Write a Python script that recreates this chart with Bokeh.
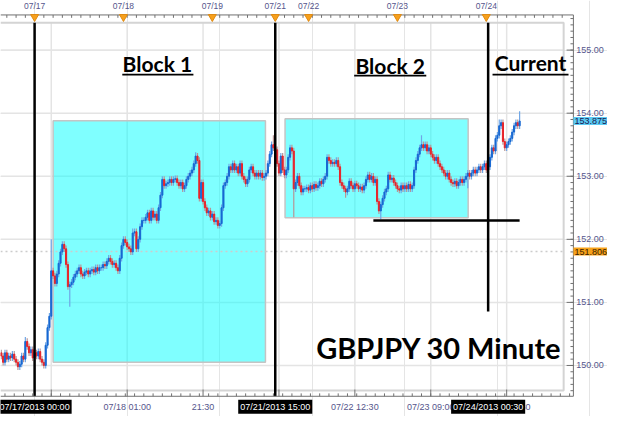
from bokeh.plotting import figure
from bokeh.models import Range1d, Label, ColumnDataSource
from bokeh.core.properties import value
from bokeh.embed import file_html
from bokeh.resources import INLINE

# ---------------- data ----------------
# 30-minute GBPJPY closes, bar index 0 = 07/17/2013 00:00 (first bar shown is index -18)
first_bar = -18
first_open = 150.20
closes = [
    150.15, 150.05, 150.20, 150.10, 150.15, 150.12, 150.18, 150.10, 150.05, 149.98,
    150.02, 150.15, 150.10, 150.38, 150.30, 150.20, 150.25, 150.12,
    150.20, 150.15, 150.22, 150.10, 150.05, 150.00, 150.32, 150.60, 150.78, 151.50,
    151.42, 151.30, 151.45, 151.62, 151.80, 151.92, 151.85, 151.60, 151.25, 151.28,
    151.32, 151.40, 151.45, 151.50, 151.55, 151.45, 151.42, 151.48, 151.50, 151.45,
    151.50, 151.52, 151.48, 151.55, 151.50, 151.55, 151.55, 151.60, 151.58, 151.65,
    151.70, 151.65, 151.60, 151.62, 151.55, 151.50, 151.70, 151.90, 152.00, 151.95,
    151.88, 151.85, 151.80, 152.10, 152.12, 151.85, 152.00, 152.20, 152.30, 152.30,
    152.35, 152.42, 152.30, 152.45, 152.35, 152.40, 152.30, 152.50, 152.70, 152.95,
    152.85, 152.88, 152.90, 152.95, 152.90, 152.95, 152.96, 152.90, 152.85, 152.90,
    152.80, 152.85, 152.95, 153.00, 153.05, 153.10, 153.20, 153.32, 153.25, 152.65,
    152.90, 152.60, 152.50, 152.42, 152.45, 152.35, 152.40, 152.28, 152.30, 152.22,
    152.25, 152.50, 152.85, 152.90, 153.00, 153.15, 153.10, 153.20, 153.10, 153.15,
    153.05, 153.20, 153.00, 152.95, 152.88, 152.95, 153.10, 153.15, 153.05, 153.00,
    153.05, 153.00, 153.05, 152.98, 153.00, 153.05, 153.20, 153.35, 153.50, 153.45,
    153.42, 153.20, 153.05, 153.32, 153.10, 153.02, 153.10, 153.30, 153.45, 153.40,
    152.80, 152.90, 153.00, 152.85, 152.75, 152.80, 152.80, 152.82, 152.78, 152.85,
    152.80, 152.87, 152.82, 152.85, 152.92, 152.88, 152.95, 153.00, 153.30, 153.25,
    153.20, 153.22, 153.20, 153.25, 153.15, 152.90, 152.85, 152.80, 152.75, 152.80,
    152.92, 152.85, 152.80, 152.88, 152.85, 152.80, 152.83, 152.78, 152.85, 152.95,
    153.02, 152.95, 153.00, 152.90, 152.95, 152.60, 152.45, 152.55, 152.65, 152.75,
    152.80, 153.02, 152.95, 152.97, 152.90, 152.85, 152.80, 152.78, 152.85, 152.80,
    152.85, 152.80, 152.87, 152.80, 152.85, 153.10, 153.25, 153.35, 153.45, 153.50,
    153.45, 153.50, 153.40, 153.45, 153.35, 153.30, 153.25, 153.30, 153.20, 153.15,
    153.10, 153.05, 153.00, 153.05, 152.95, 152.90, 152.88, 152.92, 152.85, 152.90,
    152.95, 152.90, 152.95, 153.00, 153.05, 153.00, 153.05, 153.10, 153.05, 153.10,
    153.15, 153.10, 153.15, 153.20, 153.10, 153.15, 153.30, 153.45, 153.40, 153.60,
    153.65, 153.80, 153.85, 153.55, 153.45, 153.50, 153.55, 153.60, 153.70, 153.80,
    153.85, 153.80, 153.875,
]
# notable wick extremes (bar index -> price)
wick_highs = {-5: 150.45, 9: 152.00, 15: 151.95, 53: 152.17, 69: 153.00, 87: 153.38,
              129: 153.65, 138: 153.50, 158: 153.35, 209: 153.65, 251: 153.90, 262: 154.03}
wick_lows = {-9: 149.94, 5: 149.97, 19: 150.93, 55: 151.82, 89: 152.60, 99: 152.17,
             140: 152.35, 168: 152.66, 187: 152.32, 234: 152.81}

price_ticks = [150, 151, 152, 153, 154, 155]
day_bars = [0, 48, 96, 130, 148, 196, 244]
day_labels = ["07/17", "07/18", "07/19", "07/21", "07/22", "07/23", "07/24"]
time_bars = [9, 50, 91, 132, 173, 214, 255]
time_labels = ["", "07/18 01:00", "21:30", "07/21 16:00", "07/22 12:30",
               "07/23 09:00", "07/24 05:30"]
marker_bars = [0, 130, 245]
marker_labels = ["07/17/2013 00:00", "07/21/2013 15:00", "07/24/2013 00:30"]
last_price = 153.875
ref_price = 151.806
support_price = 152.30
support_bars = [183, 262]
block1 = dict(start=10, end=124.7, low=150.05, high=153.88)
block2 = dict(start=135.3, end=234.2, low=152.34, high=153.91)

# ---------------- layout helpers (reference pixel -> data) ----------------
def rx(px):
    return (px - 35) / 1.9


def ry(py):
    return 152 + (248 - py) / 65.5


LBL = "#55558c"
AX = "#707070"
FONT = "Liberation Sans"

p = figure(width=607, height=416, x_range=Range1d(rx(0), rx(623)), y_range=Range1d(ry(432), ry(0)),
           output_backend="svg", toolbar_location=None, x_axis_location=None,
           y_axis_location=None, min_border=0)
p.outline_line_color = None
p.background_fill_color = "white"
p.border_fill_color = "white"

X_IN_L, X_IN_R = rx(0), rx(578)      # inner frame
Y_IN_T, Y_IN_B = ry(23), ry(405)
X_AX = rx(588)                        # right axis line
Y_AX_T, Y_AX_B = ry(15), ry(411)      # top / bottom axis lines

# grids
p.segment(x0=time_bars, x1=time_bars, y0=[Y_IN_B] * 7, y1=[Y_IN_T] * 7, line_color="#e4e4e4",
          line_width=1.5)
p.segment(x0=[X_IN_L] * 6, x1=[X_IN_R] * 6, y0=price_ticks, y1=price_ticks, line_color="#e4e4e4",
          line_width=1.5)

# blocks
p.quad(left=[block1["start"], block2["start"]], right=[block1["end"], block2["end"]],
       bottom=[block1["low"], block2["low"]], top=[block1["high"], block2["high"]],
       fill_color="#00ffff", fill_alpha=0.5, line_color="#c4c4c4", line_width=1.5)

# dotted reference line
p.segment(x0=[X_IN_L], x1=[X_IN_R], y0=[ref_price], y1=[ref_price], line_color="#cccccc",
          line_dash="2 3", line_width=1.5)

# inner light frame
p.line(x=[X_IN_L, X_IN_R, X_IN_R, X_IN_L], y=[Y_IN_T, Y_IN_T, Y_IN_B, Y_IN_B],
       line_color="#d4d4d4", line_width=2)

# ---------------- candles ----------------
n = len(closes)
xs = list(range(first_bar, first_bar + n))
opens = [first_open] + closes[:-1]
highs, lows, body_col, wick_col, tops, bots = [], [], [], [], [], []
for x, o, c in zip(xs, opens, closes):
    h = max(o, c) + 0.05
    l = min(o, c) - 0.05
    if x in wick_highs:
        h = max(h, wick_highs[x])
    if x in wick_lows:
        l = min(l, wick_lows[x])
    highs.append(h)
    lows.append(l)
    tops.append(max(o, c))
    bots.append(min(o, c))
    if c >= o:
        body_col.append("#1768d2")
        wick_col.append("#6fa6e6")
    else:
        body_col.append("#e8242a")
        wick_col.append("#b79696")
src = ColumnDataSource(dict(x=xs, h=highs, l=lows, top=tops, bot=bots, bc=body_col, wc=wick_col))
p.segment(x0="x", y0="l", x1="x", y1="h", source=src, line_color="wc", line_width=1.2)
p.vbar(x="x", width=0.6, top="top", bottom="bot", source=src, fill_color="bc", line_color="bc",
       line_width=1)

# event lines and support line
p.segment(x0=marker_bars, x1=marker_bars, y0=[Y_AX_B, Y_AX_B, ry(323)],
          y1=[Y_IN_T] * 3, line_color="black", line_width=2.5)
p.segment(x0=[support_bars[0]], x1=[support_bars[1]], y0=[support_price], y1=[support_price],
          line_color="black", line_width=2.5)

# ---------------- axes drawn by hand ----------------
p.segment(x0=[X_IN_L, X_AX, X_IN_L], x1=[X_AX, X_AX, X_AX], y0=[Y_AX_T, Y_AX_T, Y_AX_B],
          y1=[Y_AX_T, Y_AX_B, Y_AX_B], line_color=AX, line_width=1)
top_minor = list(range(-15, 290, 5))
p.segment(x0=top_minor, x1=top_minor, y0=[Y_AX_T] * len(top_minor),
          y1=[Y_AX_T - 3 / 65.5] * len(top_minor), line_color=AX, line_width=1)
bot_minor = list(range(-16, 290, 5))
p.segment(x0=bot_minor, x1=bot_minor, y0=[Y_AX_B] * len(bot_minor),
          y1=[Y_AX_B + 3 / 65.5] * len(bot_minor), line_color=AX, line_width=1)
p.segment(x0=time_bars, x1=time_bars, y0=[Y_AX_B] * 7, y1=[Y_AX_B + 7 / 65.5] * 7,
          line_color=AX, line_width=1)
minor_prices = [round(149.6 + 0.1 * k, 1) for k in range(60)]
p.segment(x0=[X_AX] * len(minor_prices), x1=[X_AX - 3 / 1.9] * len(minor_prices),
          y0=minor_prices, y1=minor_prices, line_color=AX, line_width=1)
p.segment(x0=[X_AX] * 6, x1=[X_AX - 7 / 1.9] * 6, y0=price_ticks, y1=price_ticks,
          line_color=AX, line_width=1)

# day markers
p.scatter(x=day_bars, y=[ry(17)] * len(day_bars), marker="inverted_triangle", size=8,
          fill_color="#f7a01c", line_color="#e08a10")

# tick labels
p.text(x=day_bars, y=[ry(6)] * len(day_bars), text=day_labels, text_font=value(FONT),
       text_font_size="8.5px", text_color=LBL, text_align="center", text_baseline="middle")
p.text(x=time_bars, y=[ry(422)] * len(time_bars), text=time_labels, text_font=value(FONT),
       text_font_size="9px", text_color=LBL, text_align="center", text_baseline="middle")
p.text(x=[rx(591)] * 6, y=price_ticks, text=[f"{v:.2f}" for v in price_ticks],
       text_font=value(FONT), text_font_size="9px", text_color=LBL, text_align="left",
       text_baseline="middle")

# price tags
p.add_layout(Label(x=rx(588), y=last_price, text=f"{last_price:.3f}", text_baseline="middle",
                   text_font=FONT, text_font_size="9px", text_color="#1a1a50",
                   background_fill_color="#5ccbf5", padding=1))
p.add_layout(Label(x=rx(588), y=ref_price, text=f"{ref_price:.3f}", text_baseline="middle",
                   text_font=FONT, text_font_size="9px", text_color="#3a2000",
                   background_fill_color="#f7a21b", padding=1))

# highlighted time labels
for b, t in zip(marker_bars, marker_labels):
    p.add_layout(Label(x=b, y=ry(422), text=t, text_align="center", text_baseline="middle",
                       text_font=FONT, text_font_size="9px", text_color="white",
                       background_fill_color="black", padding=2))

# titles
for x, y, t in ((161, 65, "Block 1"), (400, 67, "Block 2"), (544, 64, "Current")):
    p.add_layout(Label(x=rx(x), y=ry(y), text=t, text_align="center", text_baseline="middle",
                       text_font="Lato", text_font_style="bold", text_font_size="21px",
                       text_color="black"))
for l, r, y in ((125, 198, 77), (363, 437, 78), (505, 583, 77)):
    p.quad(left=[rx(l)], right=[rx(r)], bottom=[ry(y + 1)], top=[ry(y - 1)],
           fill_color="black", line_color=None)
p.add_layout(Label(x=rx(450), y=ry(360), text="GBPJPY 30 Minute", text_align="center",
                   text_baseline="middle", text_font="Lato", text_font_style="bold",
                   text_font_size="29px", text_color="black"))

open("out.html", "w").write(file_html(p, INLINE))
